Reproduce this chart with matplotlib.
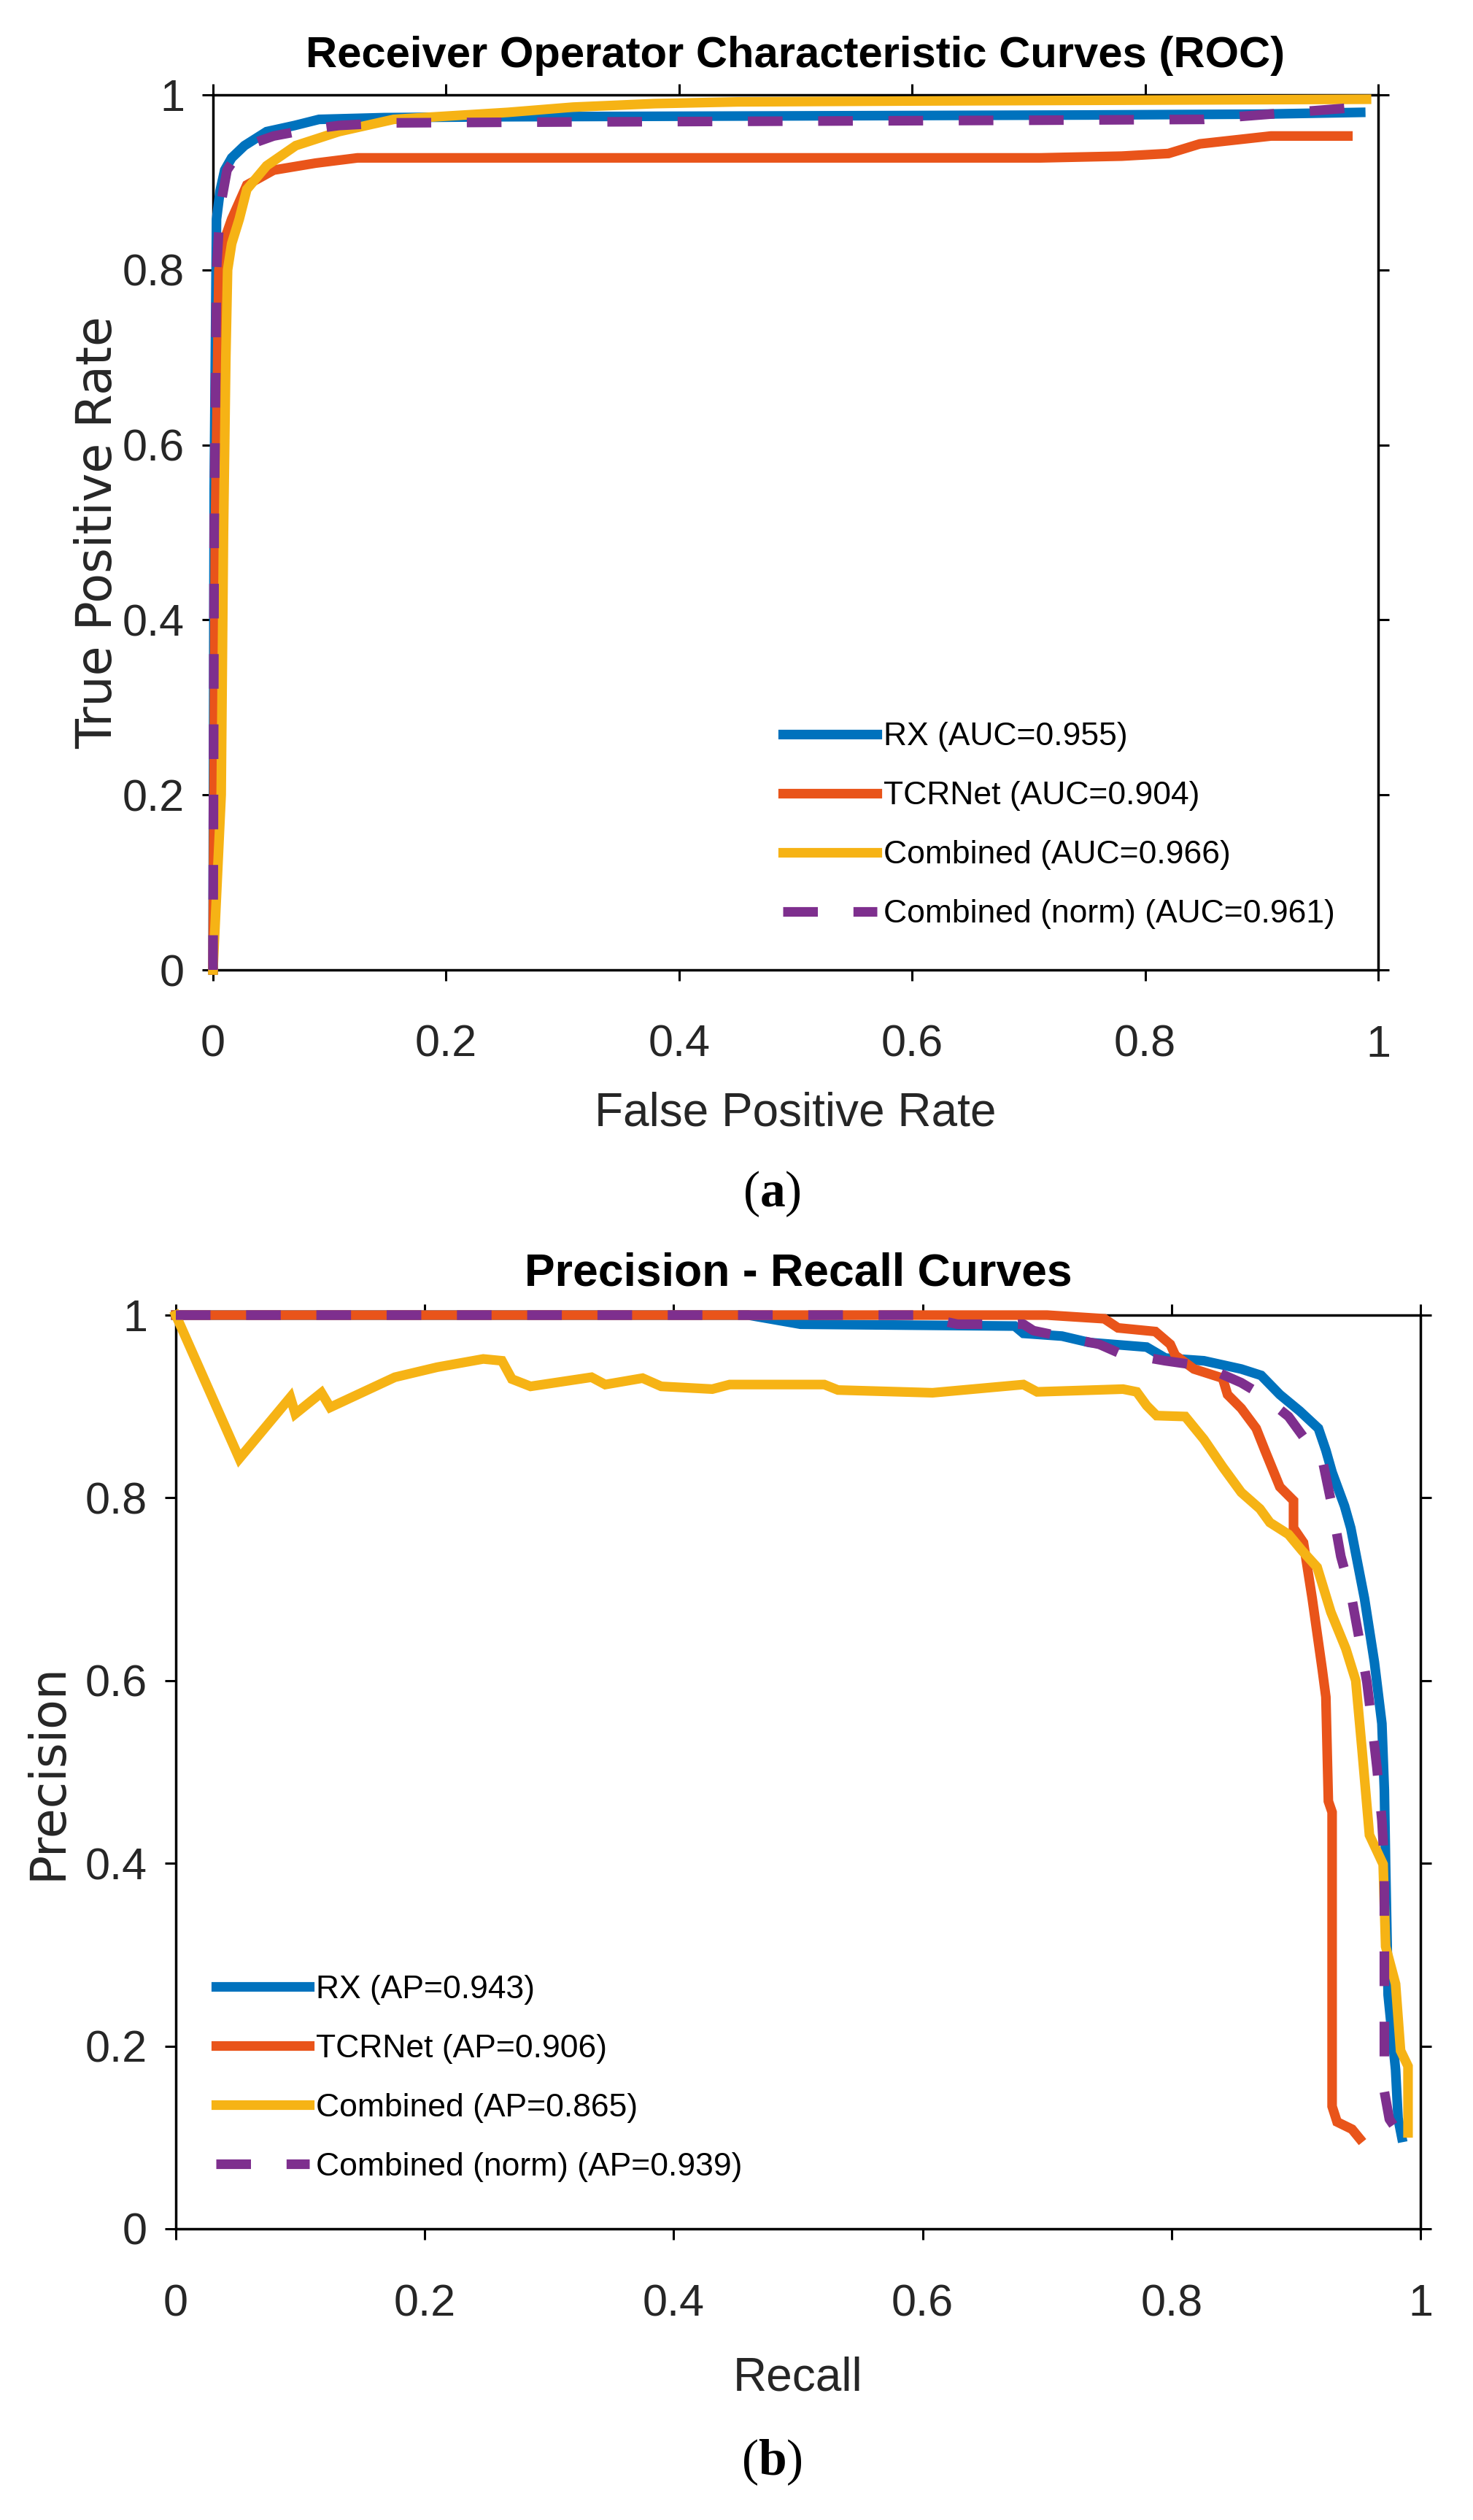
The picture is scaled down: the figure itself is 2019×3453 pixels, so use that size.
import numpy as np
import matplotlib as mpl
mpl.use('Agg')
import matplotlib.pyplot as plt
from matplotlib.ticker import FuncFormatter

# ROC curves (false positive rate, true positive rate)
rx_fpr = [0, 0.001, 0.003, 0.006, 0.010, 0.016, 0.027, 0.046, 0.07, 0.091, 0.147, 0.25, 0.5, 0.75, 0.9, 0.985]
rx_tpr = [0, 0.55, 0.858, 0.89, 0.914, 0.928, 0.942, 0.958, 0.965, 0.972, 0.974, 0.975, 0.976, 0.977, 0.978, 0.98]

tcr_fpr = [0, 0.002, 0.005, 0.010, 0.016, 0.029, 0.052, 0.088, 0.124, 0.3, 0.5, 0.71, 0.78, 0.82, 0.847, 0.908, 0.974]
tcr_tpr = [0, 0.5, 0.80, 0.835, 0.858, 0.897, 0.914, 0.922, 0.928, 0.928, 0.928, 0.928, 0.930, 0.933, 0.944, 0.953, 0.953]

comb_fpr = [0, 0.007, 0.009, 0.011, 0.0125, 0.016, 0.0225, 0.029, 0.046, 0.071, 0.108, 0.155, 0.253, 0.309, 0.379, 0.45, 0.6, 0.8, 0.99]
comb_tpr = [0, 0.2, 0.5, 0.7, 0.8, 0.83, 0.858, 0.892, 0.919, 0.942, 0.958, 0.972, 0.980, 0.986, 0.990, 0.992, 0.993, 0.994, 0.995]

norm_fpr = [0, 0.001, 0.003, 0.006, 0.012, 0.02, 0.035, 0.052, 0.08, 0.108, 0.15, 0.3, 0.5, 0.7, 0.85, 0.917, 0.975, 0.995]
norm_tpr = [0, 0.5, 0.80, 0.87, 0.914, 0.93, 0.945, 0.953, 0.96, 0.965, 0.968, 0.969, 0.970, 0.971, 0.972, 0.979, 0.985, 0.99]

roc_labels = ['RX (AUC=0.955)', 'TCRNet (AUC=0.904)', 'Combined (AUC=0.966)',
              'Combined (norm) (AUC=0.961)']

# precision - recall curves (recall, precision)
rx_rec = [0, 0.46, 0.502, 0.674, 0.681, 0.712, 0.734, 0.780, 0.795, 0.826, 0.856, 0.872, 0.887, 0.903,
          0.918, 0.924, 0.929, 0.939, 0.944, 0.955, 0.963, 0.969, 0.971, 0.972, 0.974, 0.980, 0.982, 0.985]
rx_prec = [1, 1, 0.99, 0.988, 0.980, 0.977, 0.970, 0.965, 0.953, 0.950, 0.941, 0.934, 0.913, 0.895,
           0.876, 0.852, 0.828, 0.791, 0.767, 0.690, 0.620, 0.553, 0.480, 0.399, 0.256, 0.174, 0.121, 0.10]

tcr_rec = [0, 0.70, 0.746, 0.757, 0.787, 0.799, 0.803, 0.818, 0.841, 0.845, 0.856, 0.868, 0.875, 0.887,
           0.898, 0.898, 0.906, 0.913, 0.921, 0.924, 0.926, 0.929, 0.929, 0.933, 0.945, 0.951]
tcr_prec = [1, 1, 0.996, 0.986, 0.982, 0.968, 0.956, 0.941, 0.931, 0.913, 0.898, 0.876, 0.852, 0.812,
            0.797, 0.767, 0.751, 0.690, 0.613, 0.582, 0.468, 0.456, 0.134, 0.117, 0.109, 0.099]

comb_rec = [0, 0.051, 0.092, 0.096, 0.117, 0.124, 0.176, 0.21, 0.247, 0.262, 0.270, 0.285, 0.334, 0.345,
            0.375, 0.390, 0.431, 0.445, 0.521, 0.532, 0.608, 0.681, 0.692, 0.761, 0.772, 0.780, 0.788,
            0.811, 0.826, 0.841, 0.856, 0.871, 0.879, 0.894, 0.905, 0.917, 0.928, 0.940, 0.948, 0.953,
            0.959, 0.970, 0.972, 0.980, 0.984, 0.990, 0.990]
comb_prec = [1, 0.843, 0.910, 0.892, 0.915, 0.899, 0.932, 0.943, 0.952, 0.950, 0.930, 0.922, 0.932, 0.924,
             0.931, 0.922, 0.919, 0.924, 0.924, 0.918, 0.915, 0.924, 0.916, 0.919, 0.916, 0.901, 0.890,
             0.889, 0.864, 0.834, 0.806, 0.788, 0.773, 0.760, 0.742, 0.724, 0.675, 0.635, 0.600, 0.525,
             0.431, 0.399, 0.309, 0.268, 0.195, 0.178, 0.105]

norm_rec = [0, 0.60, 0.608, 0.628, 0.681, 0.689, 0.742, 0.757, 0.795, 0.826, 0.856, 0.872, 0.894, 0.909,
            0.921, 0.928, 0.936, 0.944, 0.951, 0.957, 0.961, 0.965, 0.969, 0.971, 0.971, 0.975, 0.985, 0.99]
norm_prec = [1, 1, 0.996, 0.99, 0.99, 0.983, 0.968, 0.959, 0.950, 0.944, 0.926, 0.913, 0.889, 0.861,
             0.843, 0.797, 0.736, 0.696, 0.644, 0.598, 0.553, 0.505, 0.447, 0.399, 0.15, 0.12, 0.10, 0.10]

pr_labels = ['RX (AP=0.943)', 'TCRNet (AP=0.906)', 'Combined (AP=0.865)', 'Combined (norm) (AP=0.939)']

colors = ['#0072BD', '#E9541A', '#F6B315', '#7E2F8E']
styles = ['-', '-', '-', (0, (3.6, 3.7))]

TXT = '#262626'

plt.rcParams.update({
    'font.family': ['Liberation Sans', 'DejaVu Sans'],
    'mathtext.fontset': 'custom',
    'mathtext.rm': 'Liberation Serif',
    'mathtext.bf': 'Liberation Serif:bold',
    'axes.linewidth': 2.5,
})

W, H = 2019, 3453
fig = plt.figure(figsize=(W / 100, H / 100), dpi=100)
ax1 = fig.add_axes([292 / W, 1 - 1329 / H, 1597 / W, 1199 / H])
ax2 = fig.add_axes([241 / W, 1 - 3054 / H, 1706 / W, 1252 / H])


def draw_panel(ax, curves, labels, title, title_size, title_pad, xlabel, ylabel, ylabel_x, leg_anchor):
    for (x, y), c, ls, lab in zip(curves, colors, styles, labels):
        ax.plot(x, y, color=c, linestyle=ls, linewidth=9.5, label=lab,
                clip_on=False, zorder=3, solid_joinstyle='miter')
    ax.set_xlim(0, 1)
    ax.set_ylim(0, 1)
    ticks = np.arange(0, 1.01, 0.2)
    ax.set_xticks(ticks)
    ax.set_yticks(ticks)
    fmt = FuncFormatter(lambda v, p: '%g' % round(v, 1))
    ax.xaxis.set_major_formatter(fmt)
    ax.yaxis.set_major_formatter(fmt)
    ax.tick_params(direction='out', length=11, width=2.2, top=True, right=True,
                   labelsize=44, labelcolor=TXT)
    ax.tick_params(axis='x', pad=43)
    ax.tick_params(axis='y', pad=17)
    ax.set_title(title, fontsize=title_size, fontweight='bold', y=1.0, pad=title_pad)
    ax.set_xlabel(xlabel, fontsize=46, color=TXT, va='center')
    ax.xaxis.set_label_coords(0.5, -0.1635)
    ax.set_ylabel(ylabel, fontsize=48, color=TXT, va='center', family='DejaVu Sans')
    ax.yaxis.set_label_coords(ylabel_x, 0.5)
    ax.legend(loc='upper left', bbox_to_anchor=leg_anchor, frameon=False, fontsize=32,
              handlelength=2.9, handletextpad=0.2, labelspacing=0.9,
              borderpad=0, borderaxespad=0)


draw_panel(ax1,
           [(rx_fpr, rx_tpr), (tcr_fpr, tcr_tpr), (comb_fpr, comb_tpr), (norm_fpr, norm_tpr)],
           roc_labels, 'Receiver Operator Characteristic Curves (ROC)', 43, 27,
           'False Positive Rate', 'True Positive Rate', -0.099, (0.489, 0.2835))
draw_panel(ax2,
           [(rx_rec, rx_prec), (tcr_rec, tcr_prec), (comb_rec, comb_prec), (norm_rec, norm_prec)],
           pr_labels, 'Precision - Recall Curves', 45, 29,
           'Recall', 'Precision', -0.103, (0.032, 0.278))

fig.text(1058 / W, 1 - 1636 / H, r'$(\mathbf{a})$', fontsize=50, ha='center', va='center')
fig.text(1058 / W, 1 - 3374 / H, r'$(\mathbf{b})$', fontsize=50, ha='center', va='center')

fig.savefig('out.png', dpi=100, facecolor='white')
